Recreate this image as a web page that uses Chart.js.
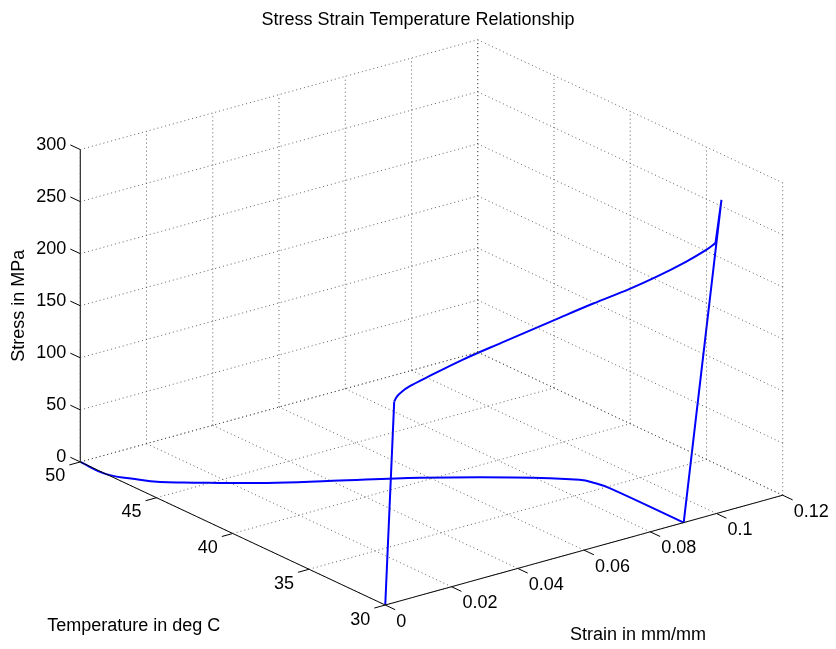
<!DOCTYPE html>
<html>
<head>
<meta charset="utf-8">
<title>Stress Strain Temperature Relationship</title>
<script src="https://cdn.jsdelivr.net/npm/chart.js@4.4.0/dist/chart.umd.min.js"></script>
<style>
  html, body { margin: 0; padding: 0; background: #fff; }
  #wrap { width: 836px; height: 649px; position: relative; }
</style>
</head>
<body>
<div id="wrap"><canvas id="sstChart"></canvas></div>
<script>
// axis limits and ticks
var strainLim = [0, 0.12], tempLim = [30, 50], stressLim = [0, 300];
var strainTicks = [0, 0.02, 0.04, 0.06, 0.08, 0.1, 0.12];
var strainTickLabels = ["0", "0.02", "0.04", "0.06", "0.08", "0.1", "0.12"];
var tempTicks = [30, 35, 40, 45, 50];
var stressTicks = [0, 50, 100, 150, 200, 250, 300];

// loading at constant 30 deg C
var loadTemp = 30;
var loadStrain = [0, 0.0027, 0.0035, 0.0050, 0.0073, 0.0123, 0.0233, 0.035, 0.0526, 0.0626, 0.0738, 0.0818, 0.0909, 0.0969, 0.0997, 0.1015];
var loadStress = [0, 193, 197, 200.5, 203.5, 207.4, 215, 221, 229.6, 234.3, 238.8, 243.2, 250, 255.9, 260, 300];
var kneeIdx = 1, endPlateauIdx = 14;   // where the elastic / plateau / hardening parts meet

// elastic unloading
var unloadStrain = [0.1015, 0.0901];
var unloadStress = [300, 0];

// heating at zero stress, strain recovers
var heatTemp = [30, 34.8, 35.6, 36.3, 38.1, 40.35, 42.2, 43.6, 45.7, 46.3, 47, 48.3, 50];
var heatStrain = [0.0901, 0.09, 0.0893, 0.0876, 0.0761, 0.0581, 0.0403, 0.027, 0.0112, 0.0071, 0.0041, 0, 0];

// matlab default 3d view (az -37.5, el 30), stretched to fill
var az = -37.5 * Math.PI / 180, el = 30 * Math.PI / 180;
var kx = 501, ky = 360.7;

function project(e, t, s) {
  var u = (e - strainLim[0]) / (strainLim[1] - strainLim[0]) - 0.5;
  var v = (t - tempLim[0]) / (tempLim[1] - tempLim[0]) - 0.5;
  var w = (s - stressLim[0]) / (stressLim[1] - stressLim[0]) - 0.5;
  return {
    x: kx * (Math.cos(az) * u + Math.sin(az) * v),
    y: ky * (Math.sin(el) * (-Math.sin(az) * u + Math.cos(az) * v) + Math.cos(el) * w)
  };
}

var GAP = {x: NaN, y: NaN};
function seg(arr, a, b) {
  arr.push(project(a[0], a[1], a[2]), project(b[0], b[1], b[2]), GAP);
}

// dotted grid on the floor and two back walls
var gridPts = [];
strainTicks.forEach(function(e) {
  seg(gridPts, [e, tempLim[0], 0], [e, tempLim[1], 0]);
  seg(gridPts, [e, tempLim[1], stressLim[0]], [e, tempLim[1], stressLim[1]]);
});
tempTicks.forEach(function(t) {
  seg(gridPts, [strainLim[0], t, 0], [strainLim[1], t, 0]);
  seg(gridPts, [strainLim[1], t, stressLim[0]], [strainLim[1], t, stressLim[1]]);
});
stressTicks.forEach(function(s) {
  seg(gridPts, [strainLim[0], tempLim[1], s], [strainLim[1], tempLim[1], s]);
  seg(gridPts, [strainLim[1], tempLim[0], s], [strainLim[1], tempLim[1], s]);
});

// axis lines + tick marks
var axisPts = [];
seg(axisPts, [strainLim[0], tempLim[0], 0], [strainLim[1], tempLim[0], 0]);
seg(axisPts, [strainLim[0], tempLim[0], 0], [strainLim[0], tempLim[1], 0]);
seg(axisPts, [strainLim[0], tempLim[1], stressLim[0]], [strainLim[0], tempLim[1], stressLim[1]]);
var dT = 0.65, dE = 0.0033;
strainTicks.forEach(function(e) { seg(axisPts, [e, tempLim[0], 0], [e, tempLim[0] - dT, 0]); });
tempTicks.forEach(function(t) { seg(axisPts, [strainLim[0], t, 0], [strainLim[0] - dE, t, 0]); });
stressTicks.forEach(function(s) { seg(axisPts, [strainLim[0], tempLim[1], s], [strainLim[0], tempLim[1] + dT, s]); });

var loadPts = loadStrain.map(function(e, i) { return project(e, loadTemp, loadStress[i]); });
var unloadPts = unloadStrain.map(function(e, i) { return project(e, loadTemp, unloadStress[i]); });
var heatPts = heatTemp.map(function(t, i) { return project(heatStrain[i], t, 0); });

var elasticPts = loadPts.slice(0, kneeIdx + 1);
var plateauPts = loadPts.slice(kneeIdx, endPlateauIdx + 1);
var hardenPts = loadPts.slice(endPlateauIdx).concat(unloadPts.slice(1));

var FONT = '18px "Liberation Sans", Arial, Helvetica, sans-serif';

var labels3d = {
  id: 'labels3d',
  afterDraw: function(chart) {
    var ctx = chart.ctx, sx = chart.scales.x, sy = chart.scales.y;
    function px(p) { return {x: sx.getPixelForValue(p.x), y: sy.getPixelForValue(p.y)}; }
    ctx.save();
    ctx.fillStyle = '#000';
    ctx.font = FONT;
    ctx.textBaseline = 'middle';

    ctx.textAlign = 'left';
    strainTicks.forEach(function(e, i) {
      var p = px(project(e, tempLim[0] - dT, 0));
      ctx.fillText(strainTickLabels[i], p.x + 1, p.y + 12);
    });
    ctx.textAlign = 'right';
    tempTicks.forEach(function(t) {
      var p = px(project(strainLim[0] - dE, t, 0));
      ctx.fillText(String(t), p.x - 4, p.y + 11.5);
    });
    stressTicks.forEach(function(s) {
      var p = px(project(strainLim[0], tempLim[1] + dT, s));
      ctx.fillText(String(s), p.x - 4, p.y);
    });

    // axis titles
    ctx.textAlign = 'center';
    var m = px(project(0.06, tempLim[0], 0));
    ctx.fillText('Strain in mm/mm', m.x + 54, m.y + 85);
    m = px(project(strainLim[0], 40, 0));
    ctx.fillText('Temperature in deg C', m.x - 99, m.y + 93);
    m = px(project(strainLim[0], tempLim[1], 150));
    ctx.translate(m.x - 61, m.y);
    ctx.rotate(-Math.PI / 2);
    ctx.fillText('Stress in MPa', 0, 0);
    ctx.restore();
  }
};

function curve(pts, tension) {
  return {
    data: pts,
    showLine: true,
    borderColor: '#0000ff',
    borderWidth: 2,
    tension: tension,
    pointRadius: 0,
    clip: false
  };
}

var ctx = document.getElementById('sstChart').getContext('2d');
new Chart(ctx, {
  type: 'scatter',
  data: {
    datasets: [
      {
        label: 'grid',
        data: gridPts,
        showLine: true,
        borderColor: 'rgba(60,60,60,0.8)',
        borderWidth: 1,
        borderDash: [1, 3],
        pointRadius: 0,
        clip: false
      },
      {
        label: 'axes',
        data: axisPts,
        showLine: true,
        borderColor: '#000',
        borderWidth: 1,
        pointRadius: 0,
        clip: false
      },
      curve(elasticPts, 0),
      curve(plateauPts, 0.35),
      curve(hardenPts, 0),
      curve(heatPts, 0.4)
    ]
  },
  options: {
    responsive: true,
    maintainAspectRatio: false,
    animation: false,
    layout: { padding: 0 },
    scales: {
      x: { type: 'linear', display: false, min: -431.5, max: 404.5 },
      y: { type: 'linear', display: false, min: -326.6, max: 290.4 }
    },
    plugins: {
      legend: { display: false },
      tooltip: { enabled: false },
      title: {
        display: true,
        text: 'Stress Strain Temperature Relationship',
        color: '#000',
        font: { family: '"Liberation Sans", Arial, Helvetica, sans-serif', size: 18, weight: 'normal', lineHeight: '22px' },
        padding: { top: 9, bottom: 1 }
      }
    }
  },
  plugins: [labels3d]
});
</script>
</body>
</html>
